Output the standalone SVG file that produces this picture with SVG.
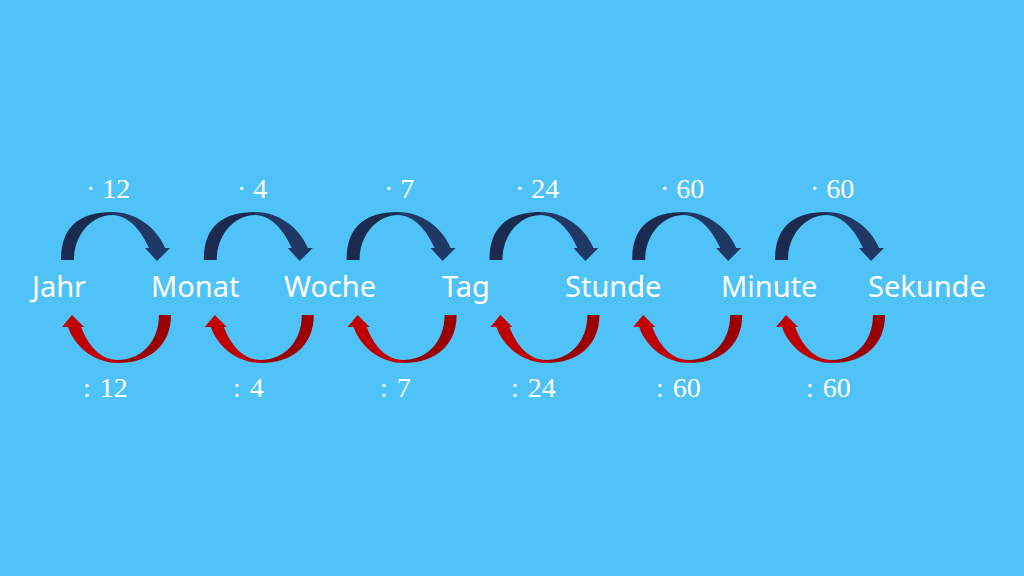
<svg xmlns="http://www.w3.org/2000/svg" xmlns:xlink="http://www.w3.org/1999/xlink" width="1024" height="576" viewBox="0 0 1024 576">
  <style>
    .word { font-family: "Noto Sans", "Open Sans", sans-serif; font-size: 29px; fill: #ffffff; }
    .lbl { font-family: "Liberation Serif", "DejaVu Serif", serif; font-size: 28px; fill: #ffffff; }
    .div { word-spacing: 2px; }
    .bL { fill: #1b2b4f; }
    .bR { fill: #1f3865; }
    .rL { fill: #c00000; }
    .rR { fill: #9a0000; }
  </style>
  <defs>
    <g id="blueArrow">
      <path class="bL" d="M61,260 C61,228 78,212 112.5,212 L112.5,215 C92,215 74,234 74,260 Z"/>
      <path class="bR" d="M112,212 C136,212 157,228 165,248 L170,248 L157,261 L145,248 L149,248 C141,230 128,215 112,215 Z"/>
    </g>
    <g id="redArrow">
      <path class="rR" d="M171,315 C171,345 150,363 117.5,363 L117.5,360 C140,360 159,343 159,315 Z"/>
      <path class="rL" d="M118,363 C98,363 76,350 68,327 L62,327 L72,315 L84,327 L81,327 C88,345 100,360 118,360 Z"/>
    </g>
  </defs>
  <rect x="0" y="0" width="1024" height="576" fill="#4fc2f8"/>

  <g id="connectors">
    <use xlink:href="#blueArrow" href="#blueArrow"/>
    <use xlink:href="#redArrow" href="#redArrow"/>
    <use xlink:href="#blueArrow" href="#blueArrow" transform="translate(142.8,0)"/>
    <use xlink:href="#redArrow" href="#redArrow" transform="translate(142.8,0)"/>
    <use xlink:href="#blueArrow" href="#blueArrow" transform="translate(285.6,0)"/>
    <use xlink:href="#redArrow" href="#redArrow" transform="translate(285.6,0)"/>
    <use xlink:href="#blueArrow" href="#blueArrow" transform="translate(428.4,0)"/>
    <use xlink:href="#redArrow" href="#redArrow" transform="translate(428.4,0)"/>
    <use xlink:href="#blueArrow" href="#blueArrow" transform="translate(571.2,0)"/>
    <use xlink:href="#redArrow" href="#redArrow" transform="translate(571.2,0)"/>
    <use xlink:href="#blueArrow" href="#blueArrow" transform="translate(714,0)"/>
    <use xlink:href="#redArrow" href="#redArrow" transform="translate(714,0)"/>
  </g>

  <g id="labels">
    <text class="lbl" x="86" y="198">· 12</text>
    <text class="lbl" x="237" y="198">· 4</text>
    <text class="lbl" x="384" y="198">· 7</text>
    <text class="lbl" x="515" y="198">· 24</text>
    <text class="lbl" x="660" y="198">· 60</text>
    <text class="lbl" x="810" y="198">· 60</text>

    <text class="lbl div" x="83" y="397">: 12</text>
    <text class="lbl div" x="233" y="397">: 4</text>
    <text class="lbl div" x="380" y="397">: 7</text>
    <text class="lbl div" x="511" y="397">: 24</text>
    <text class="lbl div" x="656" y="397">: 60</text>
    <text class="lbl div" x="806" y="397">: 60</text>
  </g>

  <g id="node-jahr"><text class="word" x="32" y="297">Jahr</text></g>
  <g id="node-monat"><text class="word" x="151" y="297">Monat</text></g>
  <g id="node-woche"><text class="word" x="284" y="297">Woche</text></g>
  <g id="node-tag"><text class="word" x="442" y="297">Tag</text></g>
  <g id="node-stunde"><text class="word" x="565" y="297">Stunde</text></g>
  <g id="node-minute"><text class="word" x="721" y="297">Minute</text></g>
  <g id="node-sekunde"><text class="word" x="868" y="297">Sekunde</text></g>
</svg>
